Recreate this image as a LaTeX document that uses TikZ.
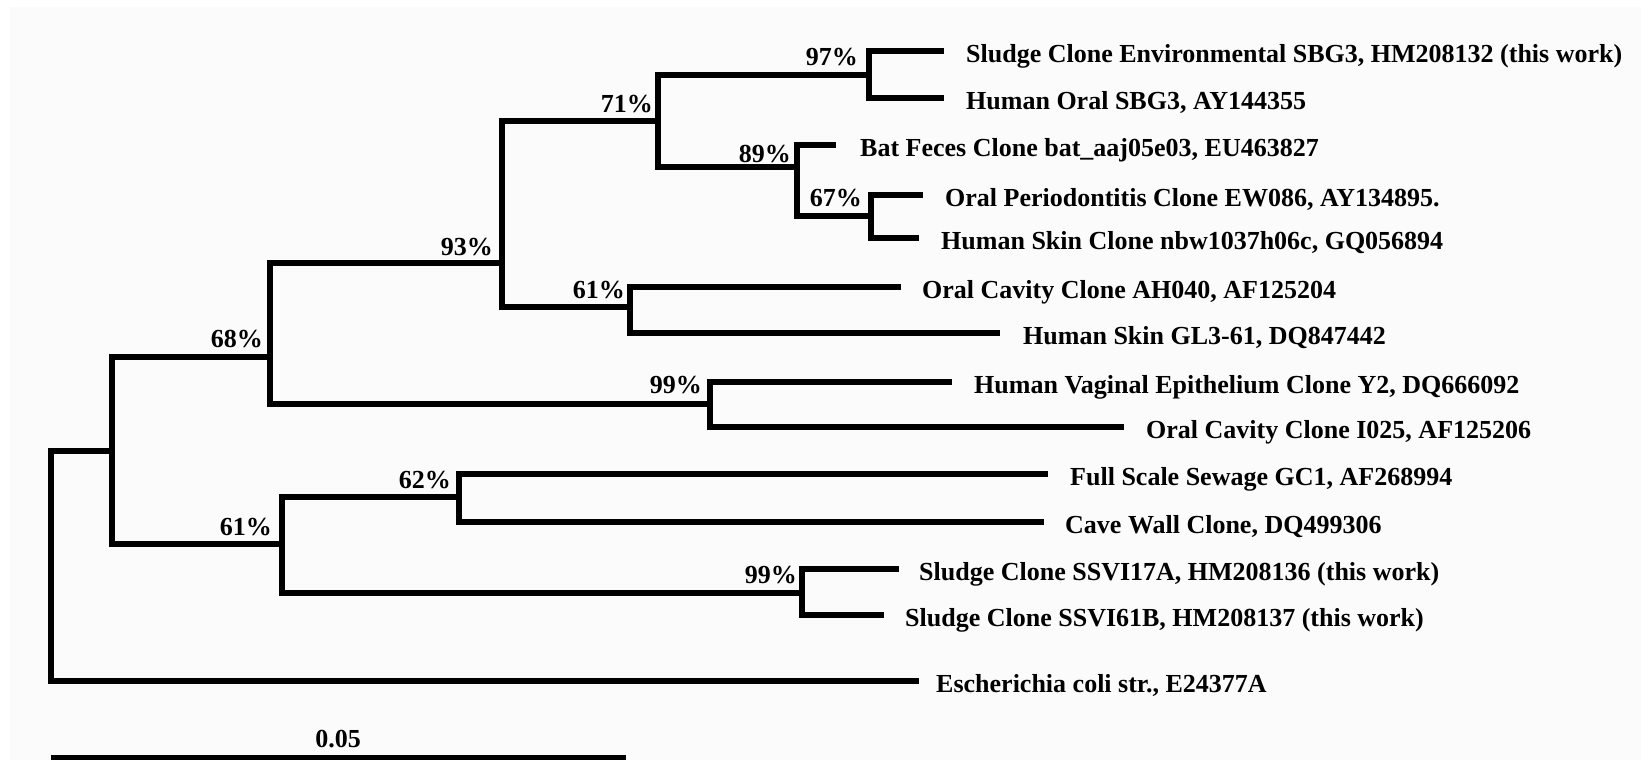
\documentclass[tikz,border=0pt]{standalone}
\usepackage{fontspec}
\setmainfont{Liberation Serif}
\definecolor{bgc}{RGB}{251,251,251}
\begin{document}
\begin{tikzpicture}[x=1pt,y=-1pt,
  br/.style={line width=6pt, line join=miter},
  leaf/.style={anchor=base west, inner sep=0pt, font=\fontsize{26}{30}\selectfont\bfseries},
  pct/.style={anchor=base east, inner sep=0pt, font=\fontsize{26}{30}\selectfont\bfseries}]
\useasboundingbox (0,0) rectangle (1641,760);
\fill[bgc] (10,7) rectangle (1641,760);
% leaf ends
\coordinate (L1) at (944,51);
\coordinate (L2) at (944,98);
\coordinate (L3) at (836,145);
\coordinate (L4) at (923,195);
\coordinate (L5) at (919,238);
\coordinate (L6) at (901,287);
\coordinate (L7) at (1000,333);
\coordinate (L8) at (952,382);
\coordinate (L9) at (1124,427);
\coordinate (L10) at (1048,474);
\coordinate (L11) at (1044,522);
\coordinate (L12) at (899,569);
\coordinate (L13) at (884,615);
\coordinate (L14) at (919,681);
% internal nodes
\coordinate (n97) at (869,75);
\coordinate (n67) at (871,216);
\coordinate (n89) at (797,167);
\coordinate (n71) at (658,121);
\coordinate (n61a) at (630,307);
\coordinate (n93) at (502,263);
\coordinate (n99a) at (710,404);
\coordinate (n68) at (270,357);
\coordinate (n62) at (459,497);
\coordinate (n99b) at (802,593);
\coordinate (n61b) at (282,544);
\coordinate (nA) at (112,451);
\coordinate (root) at (51,566);
% branches
\draw[br] (L1) -| (n97) |- (L2);
\draw[br] (L4) -| (n67) |- (L5);
\draw[br] (L3) -| (n89) |- (n67);
\draw[br] (n97) -| (n71) |- (n89);
\draw[br] (L6) -| (n61a) |- (L7);
\draw[br] (n71) -| (n93) |- (n61a);
\draw[br] (L8) -| (n99a) |- (L9);
\draw[br] (n93) -| (n68) |- (n99a);
\draw[br] (L10) -| (n62) |- (L11);
\draw[br] (L12) -| (n99b) |- (L13);
\draw[br] (n62) -| (n61b) |- (n99b);
\draw[br] (n68) -| (nA) |- (n61b);
\draw[br] (nA) -| (root) |- (L14);
% leaf labels
\node[leaf] (t1) at (966,62.5) {Sludge Clone Environmental SBG3, HM208132 (this work)};
\node[leaf] (t2) at (966,109.5) {Human Oral SBG3, AY144355};
\node[leaf] (t3) at (860,156.5) {Bat Feces Clone bat\_aaj05e03, EU463827};
\node[leaf] (t4) at (945,206.5) {Oral Periodontitis Clone EW086, AY134895.};
\node[leaf] (t5) at (941,249.5) {Human Skin Clone nbw1037h06c, GQ056894};
\node[leaf] (t6) at (922,298.5) {Oral Cavity Clone AH040, AF125204};
\node[leaf] (t7) at (1023,344.5) {Human Skin GL3-61, DQ847442};
\node[leaf] (t8) at (974,393.5) {Human Vaginal Epithelium Clone Y2, DQ666092};
\node[leaf] (t9) at (1146,438.5) {Oral Cavity Clone I025, AF125206};
\node[leaf] (t10) at (1070,485.5) {Full Scale Sewage GC1, AF268994};
\node[leaf] (t11) at (1065,533.5) {Cave Wall Clone, DQ499306};
\node[leaf] (t12) at (919,580.5) {Sludge Clone SSVI17A, HM208136 (this work)};
\node[leaf] (t13) at (905,626.5) {Sludge Clone SSVI61B, HM208137 (this work)};
\node[leaf] (t14) at (936,692.5) {Escherichia coli str., E24377A};
% bootstrap values
\node[pct] (p97) at (858,66) {97\%};
\node[pct] (p71) at (653,112) {71\%};
\node[pct] (p89) at (791,162) {89\%};
\node[pct] (p67) at (862,206) {67\%};
\node[pct] (p93) at (493,255) {93\%};
\node[pct] (p61a) at (625,298) {61\%};
\node[pct] (p68) at (263,347) {68\%};
\node[pct] (p99a) at (702,393) {99\%};
\node[pct] (p62) at (451,488) {62\%};
\node[pct] (p61b) at (272,535) {61\%};
\node[pct] (p99b) at (797,583) {99\%};
% scale bar
\coordinate (sb1) at (51,757.5);
\coordinate (sb2) at (626,757.5);
\draw[br] (sb1) -- (sb2);
\node[anchor=base, inner sep=0pt, font=\fontsize{26}{30}\selectfont\bfseries] (sl) at (338,747) {0.05};
\end{tikzpicture}
\end{document}
